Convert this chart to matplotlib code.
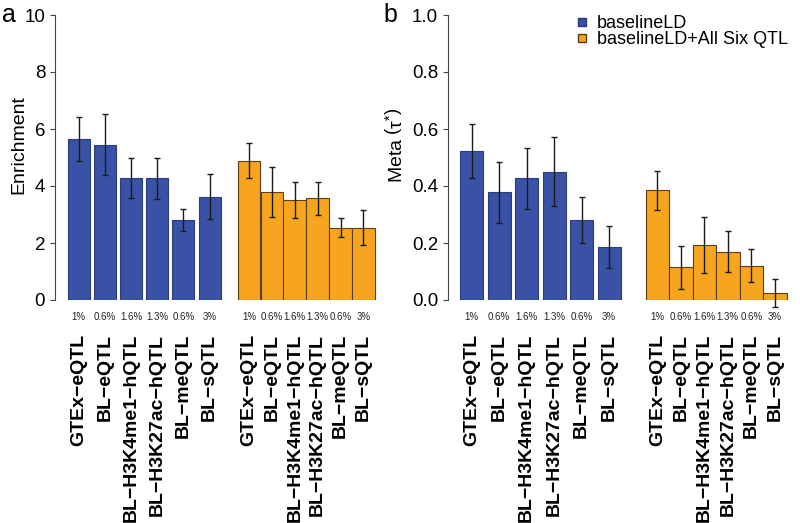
import numpy as np
import matplotlib
matplotlib.use("Agg")
import matplotlib.pyplot as plt
from matplotlib.lines import Line2D

plt.rcParams['font.family'] = ['Liberation Sans', 'DejaVu Sans']
plt.rcParams['mathtext.fontset'] = 'custom'
plt.rcParams['mathtext.rm'] = 'Liberation Sans'
plt.rcParams['mathtext.it'] = 'Liberation Sans:italic'

# data
annots = ["GTEx\u2212eQTL", "BL\u2212eQTL", "BL\u2212H3K4me1\u2212hQTL",
          "BL\u2212H3K27ac\u2212hQTL", "BL\u2212meQTL", "BL\u2212sQTL"]
pct = ["1%", "0.6%", "1.6%", "1.3%", "0.6%", "3%"]

enr_base = [5.65, 5.45, 4.28, 4.28, 2.81, 3.61]
enr_base_lo = [4.88, 4.37, 3.58, 3.56, 2.43, 2.83]
enr_base_hi = [6.43, 6.51, 4.98, 4.99, 3.18, 4.41]
enr_qtl = [4.89, 3.79, 3.51, 3.57, 2.54, 2.54]
enr_qtl_lo = [4.27, 2.92, 2.87, 2.98, 2.21, 1.93]
enr_qtl_hi = [5.50, 4.65, 4.14, 4.15, 2.89, 3.17]

tau_base = [0.523, 0.378, 0.427, 0.449, 0.281, 0.185]
tau_base_lo = [0.427, 0.271, 0.318, 0.330, 0.199, 0.111]
tau_base_hi = [0.617, 0.485, 0.535, 0.571, 0.361, 0.258]
tau_qtl = [0.385, 0.115, 0.193, 0.170, 0.120, 0.023]
tau_qtl_lo = [0.316, 0.037, 0.094, 0.099, 0.063, -0.023]
tau_qtl_hi = [0.453, 0.191, 0.292, 0.243, 0.178, 0.073]

BLUE = "#3A52A5"
ORANGE = "#F7A51E"
W, H = 800, 523

fig = plt.figure(figsize=(8, 5.23), dpi=100)


def panel(left, right, ylim, yticks, fmt, groups, ylabel, lab_x):
    ax = fig.add_axes([left / W, (H - 300) / H, (right - left) / W, 285 / H])
    ax.set_xlim(0, right - left)
    ax.set_ylim(*ylim)
    for vals, lo, hi, x0, pitch, width, col, ec in groups:
        x = x0 + pitch * np.arange(len(vals))
        ax.bar(x, vals, width=width, color=col, edgecolor=ec, linewidth=0.8)
        v = np.array(vals)
        err = [v - np.array(lo), np.array(hi) - v]
        ax.errorbar(x, v, yerr=err, fmt='none', ecolor='#1a1a1a',
                    elinewidth=1.0, capsize=2.3, capthick=1.0, clip_on=False)
        tr = ax.get_xaxis_transform()
        for xi, p, a in zip(x, pct, annots):
            ax.text(xi, -0.06, p, transform=tr, ha='center', va='center',
                    fontsize=7, color='#222222')
            ax.text(xi, -0.118, a, transform=tr, ha='center', va='top',
                    rotation=90, fontsize=14, fontweight='bold')
    for s in ['top', 'right', 'bottom']:
        ax.spines[s].set_visible(False)
    ax.spines['left'].set_color('#444444')
    ax.set_xticks([])
    ax.set_yticks(yticks)
    ax.set_yticklabels([fmt % t for t in yticks], fontsize=13.5)
    ax.tick_params(axis='y', length=3.6, pad=3.5, color='#444444')
    ax.set_ylabel(ylabel, fontsize=14)
    ax.yaxis.set_label_coords(lab_x, 0.544)
    return ax


ax_a = panel(55, 385, (0, 10), [0, 2, 4, 6, 8, 10], '%d',
             [(enr_base, enr_base_lo, enr_base_hi, 23.7, 26.2, 22.0, BLUE, '#2c3c78'),
              (enr_qtl, enr_qtl_lo, enr_qtl_hi, 194.0, 22.9, 22.7, ORANGE, '#5c3d12')],
             'Enrichment', -0.085)

ax_b = panel(448, 795, (0, 1), [0, 0.2, 0.4, 0.6, 0.8, 1.0], '%.1f',
             [(tau_base, tau_base_lo, tau_base_hi, 23.65, 27.5, 23.3, BLUE, '#2c3c78'),
              (tau_qtl, tau_qtl_lo, tau_qtl_hi, 209.35, 23.5, 23.3, ORANGE, '#5c3d12')],
             r'Meta $\left(\mathrm{\tau}^{*}\right)$', -0.121)

handles = [Line2D([], [], ls='none', marker='s', markersize=6,
                  markerfacecolor=BLUE, markeredgecolor='#2c3c78'),
           Line2D([], [], ls='none', marker='s', markersize=6,
                  markerfacecolor=ORANGE, markeredgecolor='#5c3d12')]
fig.legend(handles, ["baselineLD", "baselineLD+All Six QTL"], loc='upper left',
           bbox_to_anchor=(577 / W, 1 - 15 / H), frameon=False, fontsize=13,
           handlelength=0.6, handletextpad=0.5, labelspacing=-0.05,
           borderpad=0, borderaxespad=0)

fig.text(2 / W, 1 - 3 / H, "a", fontsize=18, ha='left', va='top')
fig.text(383 / W, 1 - 3 / H, "b", fontsize=18, ha='left', va='top')

fig.savefig("out.png", dpi=100)
